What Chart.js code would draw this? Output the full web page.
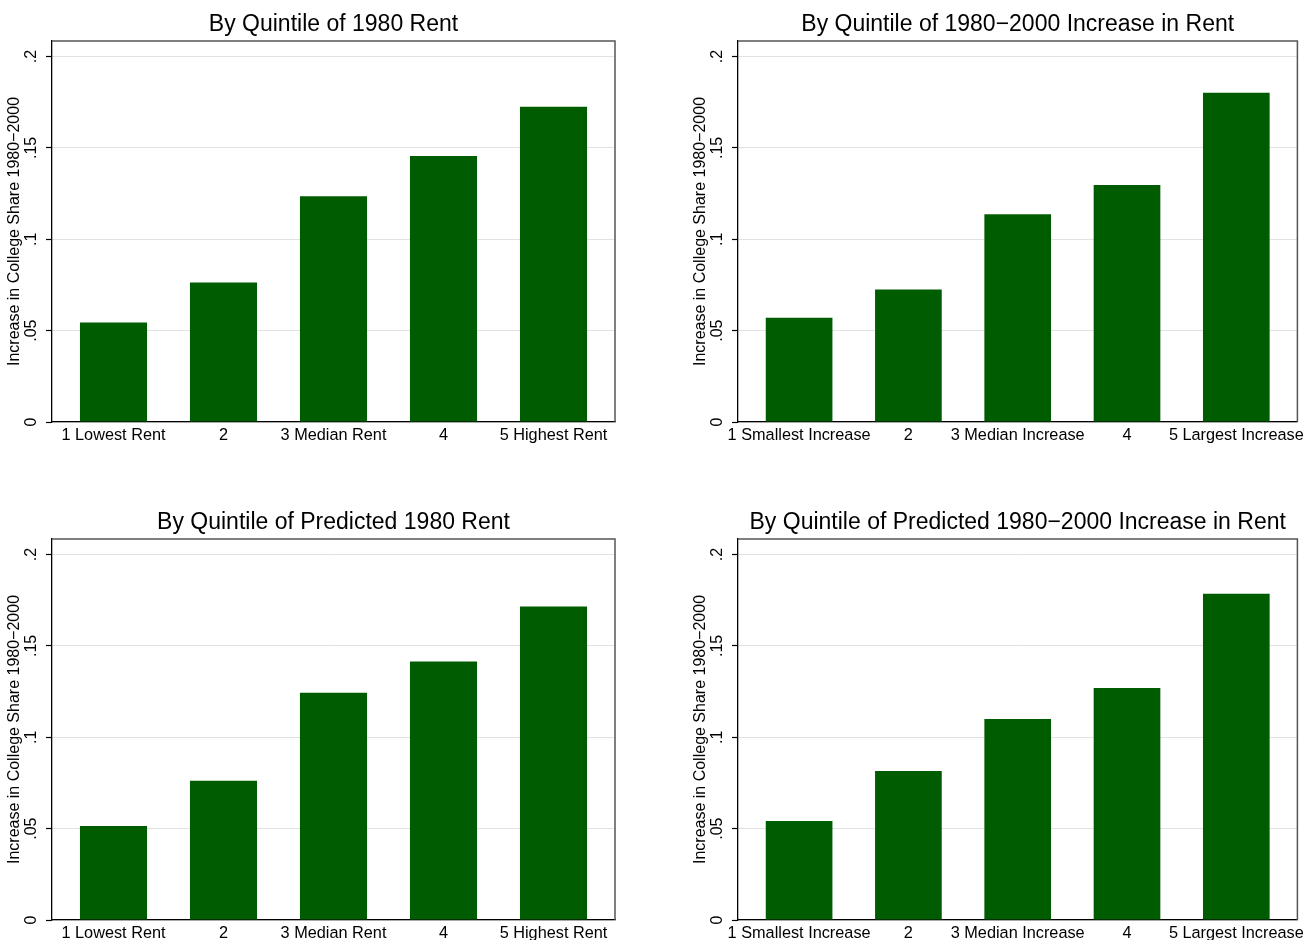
<!DOCTYPE html>
<html>
<head>
<meta charset="utf-8">
<script src="https://cdn.jsdelivr.net/npm/chart.js@4/dist/chart.umd.min.js"></script>
<style>
  html, body { margin: 0; padding: 0; background: #fff; overflow: hidden; }
  body { width: 1309px; height: 940px; position: relative; }
  canvas { position: absolute; }
</style>
</head>
<body>
<canvas id="c1" width="624" height="460" style="left:0px;top:0px"></canvas>
<canvas id="c2" width="623" height="460" style="left:686px;top:0px"></canvas>
<canvas id="c3" width="624" height="460" style="left:0px;top:498px"></canvas>
<canvas id="c4" width="623" height="460" style="left:686px;top:498px"></canvas>
<script>
const rentLabels = ["1 Lowest Rent", "2", "3 Median Rent", "4", "5 Highest Rent"];
const increaseLabels = ["1 Smallest Increase", "2", "3 Median Increase", "4", "5 Largest Increase"];

const yTickValues = [0, 0.05, 0.1, 0.15, 0.2];
const yTickLabels = ["0", ".05", ".1", ".15", ".2"];

const rent1980 = [0.0544, 0.0764, 0.1236, 0.1456, 0.1725];
const rentIncrease = [0.0571, 0.0725, 0.1137, 0.1297, 0.1802];
const predRent1980 = [0.0515, 0.0762, 0.1244, 0.1414, 0.1715];
const predRentIncrease = [0.0542, 0.0816, 0.1100, 0.1270, 0.1786];

const barColor = "#005c00";
const fontFamily = "'Liberation Sans', Arial, Helvetica, sans-serif";

// stata draws a grey frame on top and right of the plot region
const frameLines = {
    id: "frameLines",
    afterDatasetsDraw(chart) {
        const a = chart.chartArea;
        const ctx = chart.ctx;
        ctx.save();
        ctx.strokeStyle = "#555";
        ctx.lineWidth = 1.5;
        ctx.beginPath();
        ctx.moveTo(a.left, a.top);
        ctx.lineTo(a.right, a.top);
        ctx.lineTo(a.right, a.bottom);
        ctx.stroke();
        ctx.restore();
    }
};

function makePanel(id, title, labels, values, padRight) {
    const data = {
        datasets: [{
            data: values.map((v, i) => ({ x: i + 1, y: v })),
            backgroundColor: barColor,
            borderWidth: 0,
            categoryPercentage: 1,
            barPercentage: 0.61,
        }]
    };
    const config = {
        type: "bar",
        data,
        options: {
            responsive: false,
            animation: false,
            layout: { padding: { left: 0, right: padRight, top: 0, bottom: 8 } },
            plugins: {
                legend: { display: false },
                tooltip: { enabled: false },
                title: {
                    display: true,
                    text: title,
                    fullSize: false,
                    color: "#000",
                    font: { family: fontFamily, size: 23, weight: "normal", lineHeight: 1.2 },
                    padding: { top: 10.4, bottom: 3 }
                }
            },
            scales: {
                x: {
                    type: "linear",
                    offset: false,
                    min: 0.441,
                    max: 5.559,
                    afterBuildTicks: (scale) => {
                        scale.ticks = labels.map((l, i) => ({ value: i + 1 }));
                    },
                    afterFit: (scale) => { scale.height = 30; },
                    grid: { display: false, drawTicks: false, offset: false },
                    border: { display: true, color: "#000", width: 1.3 },
                    ticks: {
                        color: "#000",
                        padding: 4,
                        maxRotation: 0,
                        autoSkip: false,
                        font: { family: fontFamily, size: 16.3 },
                        callback: (v) => labels[Math.round(v) - 1]
                    }
                },
                y: {
                    min: 0,
                    max: 0.2085,
                    afterBuildTicks: (scale) => {
                        scale.ticks = yTickValues.map(v => ({ value: v }));
                    },
                    afterFit: (scale) => { scale.width = 52; },
                    grid: {
                        color: "#e2e2e2",
                        lineWidth: 1,
                        drawTicks: true,
                        tickLength: 6,
                        tickColor: "#000",
                        tickWidth: 1.2
                    },
                    border: { display: true, color: "#000", width: 1.3 },
                    ticks: {
                        color: "#000",
                        minRotation: 90,
                        maxRotation: 90,
                        crossAlign: "center",
                        padding: 3,
                        font: { family: fontFamily, size: 16 },
                        callback: (v) => yTickLabels[yTickValues.indexOf(v)]
                    },
                    title: {
                        display: true,
                        text: "Increase in College Share 1980\u22122000",
                        color: "#000",
                        font: { family: fontFamily, size: 16 },
                        padding: { top: 5, bottom: 0 }
                    }
                }
            }
        },
        plugins: [frameLines]
    };
    return new Chart(document.getElementById(id), config);
}

makePanel("c1", "By Quintile of 1980 Rent", rentLabels, rent1980, 9);
makePanel("c2", "By Quintile of 1980\u22122000 Increase in Rent", increaseLabels, rentIncrease, 7);
makePanel("c3", "By Quintile of Predicted 1980 Rent", rentLabels, predRent1980, 9);
makePanel("c4", "By Quintile of Predicted 1980\u22122000 Increase in Rent", increaseLabels, predRentIncrease, 7);
</script>
</body>
</html>
